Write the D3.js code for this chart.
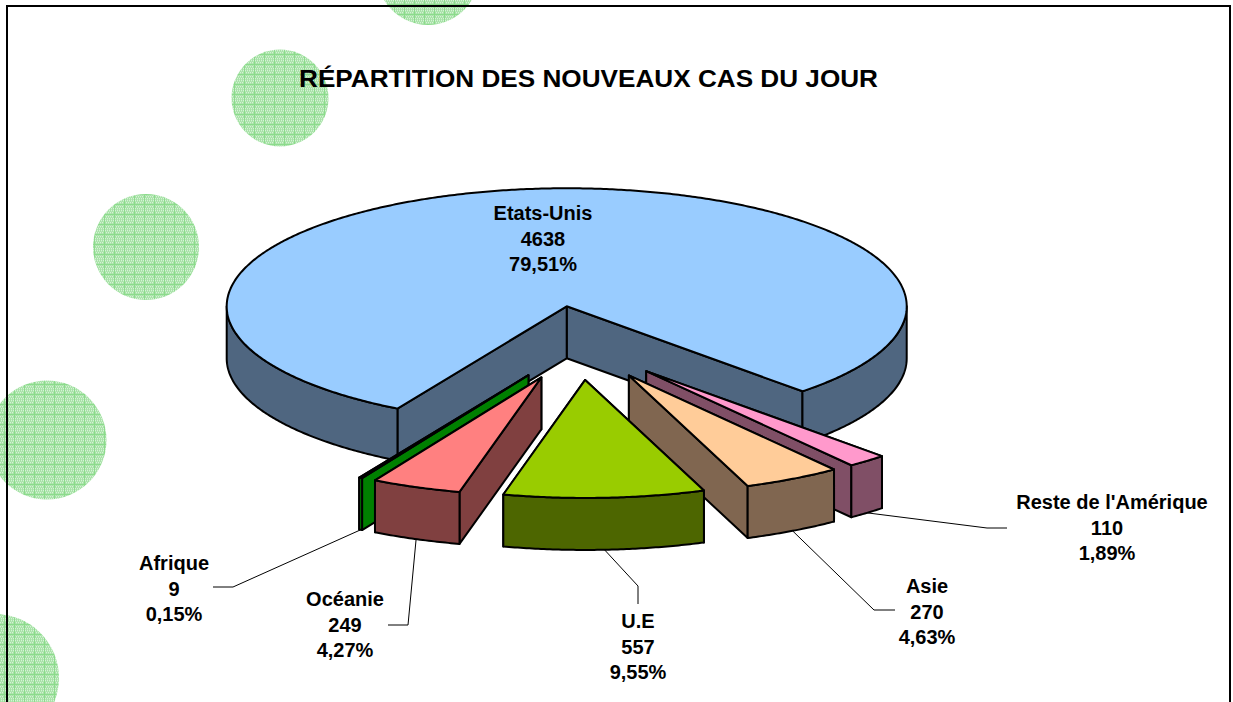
<!DOCTYPE html>
<html><head><meta charset="utf-8">
<script src="https://cdn.jsdelivr.net/npm/d3@7/dist/d3.min.js"></script>
<style>html,body{margin:0;padding:0;background:#fff;overflow:hidden}svg{display:block}
text{font-family:"Liberation Sans",Arial,sans-serif;font-weight:bold;fill:#000;text-anchor:middle}</style>
</head><body><svg id="c" width="1233" height="702"></svg>
<script>
// Data, in pie order (clockwise from the first slice)
const categories = ["Reste de l'Amérique","Asie","U.E","Océanie","Afrique","Etats-Unis"];
const values = [110,270,557,249,9,4638];
const percentLabels = ["1,89%","4,63%","9,55%","4,27%","0,15%","79,51%"];
const title = "RÉPARTITION DES NOUVEAUX CAS DU JOUR";

// Styles and layout
const topColors = ["#ff99cc","#ffcc99","#99cc00","#ff8080","#00ff00","#99ccff"];
const wallColors = ["#804f66","#806650","#4d6600","#804040","#008000","#4f6680"];
const drawOrder = [5,4,3,0,1,2];
const labelPos = [[1107,509],[927,593],[638,628],[345,606],[174,570],[543,220]];
const firstLineShift = [5,0,0,0,0,0];
const elbows = [[[987,528],[1007,528]],[[874,610],[895,610]],[[638,586],[638,604]],[[408,625],[388,625]],[[233,587],[213,587]],null];
const bubbles = [[428,-26,51],[280,98,48.5],[146,247,53],[47,440,59.5],[-5,678,64]];

const W=1233,H=702,cx=579.3,cy=343,R=340,ry=118,depth=52,explode=103,explodeY=37,firstAngle=136.1;
const svg=d3.select("#c");
const defs=svg.append("defs");
const pat=defs.append("pattern").attr("id","dots").attr("patternUnits","userSpaceOnUse").attr("width",10).attr("height",10);
pat.append("rect").attr("width",10).attr("height",10).attr("fill","#d6f1d6");
d3.range(0,10,2).forEach(i=>d3.range(0,10,2).forEach(j=>{
  pat.append("rect").attr("x",i+((j/2)%2)).attr("y",j).attr("width",1).attr("height",2).attr("fill","#a6e2a6");
  pat.append("rect").attr("x",i+1-((j/2)%2)).attr("y",j+1).attr("width",1).attr("height",1).attr("fill","#b6e8b6");
}));
pat.append("rect").attr("x",4).attr("y",0).attr("width",1).attr("height",10).attr("fill","#8cdb8c");
pat.append("rect").attr("x",0).attr("y",4).attr("width",10).attr("height",1).attr("fill","#8cdb8c");

svg.append("g").selectAll("circle").data(bubbles).join("circle")
  .attr("cx",d=>d[0]).attr("cy",d=>d[1]).attr("r",d=>d[2]).attr("fill","url(#dots)");

svg.append("rect").attr("x",7).attr("y",6).attr("width",1223).attr("height",800)
  .attr("fill","none").attr("stroke","#000").attr("stroke-width",2);

svg.append("text").text(title).attr("x",588.5).attr("y",87).attr("font-size",23.5)
  .attr("textLength",579).attr("lengthAdjust","spacingAndGlyphs");

const deg=Math.PI/180;
const pie=d3.pie().sort(null).value(d=>d).startAngle(firstAngle*deg).endAngle((firstAngle+360)*deg);
const arcs=pie(values);
const line=d3.line();
const mid=a=>(a.startAngle+a.endAngle)/2;
const apex=a=>[cx+explode*Math.sin(mid(a)), cy-explodeY*Math.cos(mid(a))];
const rim=(a,t,dy=0)=>{const p=apex(a);return [p[0]+R*Math.sin(t),p[1]-ry*Math.cos(t)+dy];};
const sweep=(a,t0,t1,dy=0)=>{
  const n=Math.max(2,Math.ceil(Math.abs(t1-t0)/(0.5*deg)));
  return d3.range(n+1).map(i=>rim(a,t0+(t1-t0)*i/n,dy));
};
function visibleRanges(a){ // parts of the rim that face the viewer: 90°..270°, modulo a full turn
  const out=[];
  [0,1].forEach(k=>{
    const lo=Math.max(a.startAngle,(90+360*k)*deg), hi=Math.min(a.endAngle,(270+360*k)*deg);
    if(hi>lo) out.push([lo,hi]);
  });
  return out;
}
const chart=svg.append("g").attr("stroke","#000").attr("stroke-width",2).attr("stroke-linejoin","round");
drawOrder.forEach(i=>{
  const a=arcs[i],g=chart.append("g"),p=apex(a);
  // the hidden cut face goes first, so the visible one covers it
  const cuts=Math.sin(mid(a))<0?[a.endAngle,a.startAngle]:[a.startAngle,a.endAngle];
  cuts.forEach(t=>{
    const e=rim(a,t);
    g.append("path").attr("fill",wallColors[i])
      .attr("d",line([p,e,[e[0],e[1]+depth],[p[0],p[1]+depth]])+"Z");
  });
  visibleRanges(a).forEach(([t0,t1])=>{
    g.append("path").attr("fill",wallColors[i])
      .attr("d",line(sweep(a,t0,t1).concat(sweep(a,t1,t0,depth)))+"Z");
  });
  g.append("path").attr("fill",topColors[i])
    .attr("d",line([p].concat(sweep(a,a.startAngle,a.endAngle)))+"Z");
});

// leader lines
const leaders=svg.append("g").attr("fill","none").attr("stroke","#000").attr("stroke-width",1);
arcs.forEach((a,i)=>{
  if(!elbows[i]) return;
  leaders.append("path").attr("d",line([rim(a,mid(a),depth)].concat(elbows[i])));
});

// labels
const labels=svg.append("g").attr("font-size",20);
categories.forEach((c,i)=>{
  const [x,y]=labelPos[i];
  [c,String(values[i]),percentLabels[i]].forEach((t,k)=>{
    labels.append("text").text(t).attr("x",k===0?x+firstLineShift[i]:x).attr("y",y+k*25.6);
  });
});
</script></body></html>
